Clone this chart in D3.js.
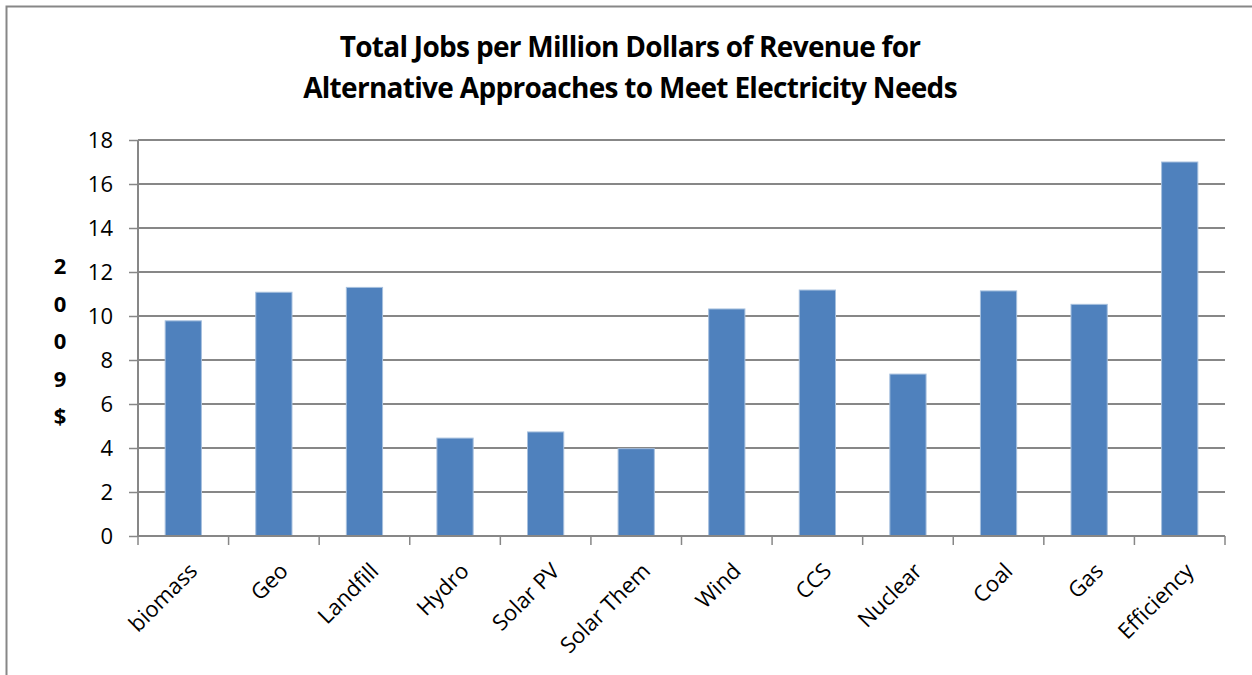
<!DOCTYPE html>
<html>
<head>
<meta charset="utf-8">
<script src="https://cdn.jsdelivr.net/npm/d3@7"></script>
<style>
  body { margin: 0; background: #fff; }
  svg { display: block; font-family: "Open Sans", Lato, sans-serif; }
</style>
</head>
<body>
<svg id="svg" width="1252" height="675"></svg>
<script>
var categories = ["biomass", "Geo", "Landfill", "Hydro", "Solar PV", "Solar Them",
                  "Wind", "CCS", "Nuclear", "Coal", "Gas", "Efficiency"];
var jobs = [9.78, 11.08, 11.3, 4.45, 4.73, 3.97, 10.32, 11.18, 7.36, 11.14, 10.53, 17.0];
var yTicks = [0, 2, 4, 6, 8, 10, 12, 14, 16, 18];
var titleLines = ["Total Jobs per Million Dollars of Revenue for",
                  "Alternative Approaches to Meet Electricity Needs"];
var yTitle = ["2", "0", "0", "9", "$"];

var data = categories.map(function(c, i) { return { name: c, value: jobs[i] }; });

var svg = d3.select("#svg");
var plotL = 138, plotR = 1225, plotT = 140, plotB = 536;
var gridColor = "#878787";

// outer chart frame
svg.append("rect")
  .attr("x", 6.5).attr("y", 6.5)
  .attr("width", 1260).attr("height", 700)
  .attr("fill", "none")
  .attr("stroke", gridColor)
  .attr("stroke-width", 2);

//////// TITLE ////////
svg.selectAll(".title").data(titleLines).enter()
  .append("text")
  .attr("class", "title")
  .attr("x", 630)
  .attr("y", function(d, i) { return 57 + i * 41; })
  .attr("text-anchor", "middle")
  .attr("font-size", 28)
  .attr("font-weight", "bold")
  .attr("letter-spacing", -0.7)
  .attr("fill", "#000")
  .text(function(d) { return d; });

//////// SCALES ////////
var x = d3.scaleBand()
  .domain(categories)
  .range([plotL, plotR])
  .paddingInner(0.6)
  .paddingOuter(0.3);

var y = d3.scaleLinear()
  .domain([0, 18])
  .range([plotB, plotT]);

//////// GRID + Y AXIS ////////
var yAxis = svg.append("g")
  .attr("transform", "translate(" + plotL + ",0)")
  .call(d3.axisLeft(y).tickValues(yTicks).tickSize(9).tickPadding(16));
yAxis.select(".domain").remove();
yAxis.selectAll("line").attr("stroke", gridColor).attr("stroke-width", 1.5);
yAxis.selectAll("text").attr("font-size", 22).attr("fill", "#000")
  .attr("font-family", "'Open Sans', Lato, sans-serif");

svg.append("g").selectAll("line").data(yTicks).enter()
  .append("line")
  .attr("x1", plotL).attr("x2", plotR)
  .attr("y1", function(d) { return y(d); })
  .attr("y2", function(d) { return y(d); })
  .attr("stroke", gridColor)
  .attr("stroke-width", 2);

// left axis line
svg.append("line")
  .attr("x1", plotL).attr("x2", plotL)
  .attr("y1", plotT).attr("y2", plotB)
  .attr("stroke", gridColor).attr("stroke-width", 2);

//////// BARS ////////
svg.append("g").selectAll("rect").data(data).enter()
  .append("rect")
  .attr("x", function(d) { return x(d.name); })
  .attr("y", function(d) { return y(d.value); })
  .attr("width", x.bandwidth())
  .attr("height", function(d) { return y(0) - y(d.value); })
  .attr("fill", "#4F81BD")
  .attr("stroke", "#A7C0DE")
  .attr("stroke-width", 1);

//////// X AXIS ////////
var step = x.step();
var xTickPos = d3.range(categories.length + 1).map(function(i) { return plotL + i * step; });
svg.append("g").selectAll("line").data(xTickPos).enter()
  .append("line")
  .attr("x1", function(d) { return d; }).attr("x2", function(d) { return d; })
  .attr("y1", plotB).attr("y2", plotB + 9)
  .attr("stroke", gridColor).attr("stroke-width", 1.5);

svg.append("line")
  .attr("x1", plotL).attr("x2", plotR)
  .attr("y1", plotB).attr("y2", plotB)
  .attr("stroke", gridColor).attr("stroke-width", 2);

svg.append("g").selectAll("text").data(categories).enter()
  .append("text")
  .attr("transform", function(d) {
    var cx = x(d) + x.bandwidth() / 2 + 10;
    return "translate(" + cx + "," + (plotB + 31) + ")rotate(-45)";
  })
  .attr("text-anchor", "end")
  .attr("dy", "0.35em")
  .attr("font-size", 22)
  .attr("fill", "#000")
  .text(function(d) { return d; });

//////// Y TITLE ////////
svg.append("g").selectAll("text").data(yTitle).enter()
  .append("text")
  .attr("x", 60)
  .attr("y", function(d, i) { return 274 + i * 37.5; })
  .attr("text-anchor", "middle")
  .attr("font-size", 22)
  .attr("font-weight", "bold")
  .attr("fill", "#000")
  .text(function(d) { return d; });
</script>
</body>
</html>
